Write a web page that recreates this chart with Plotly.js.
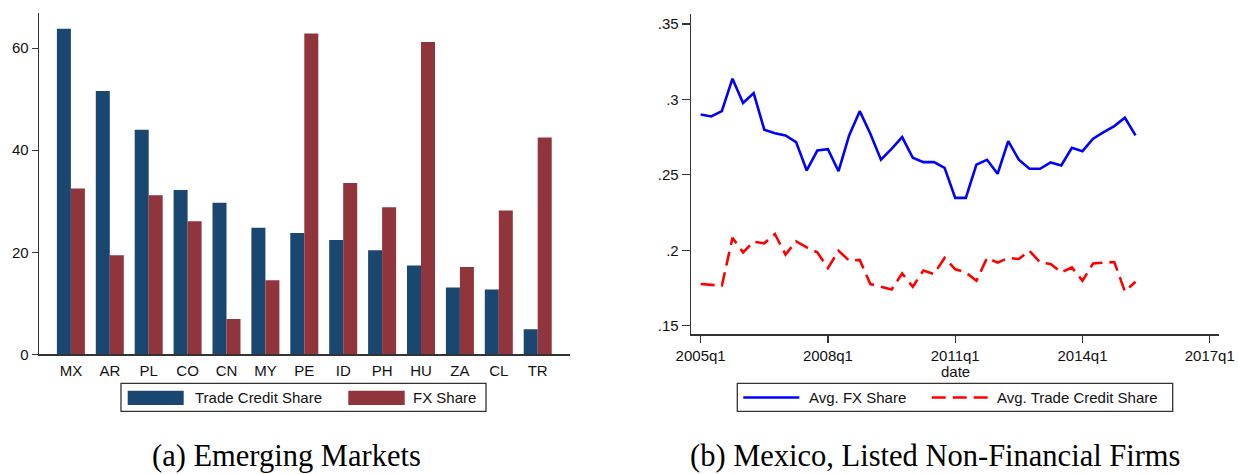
<!DOCTYPE html>
<html>
<head>
<meta charset="utf-8">
<script src="https://cdn.plot.ly/plotly-3.0.1.min.js"></script>
<style>
  html, body { margin: 0; padding: 0; background: #fff; }
  #chart { width: 1238px; height: 474px; }
</style>
</head>
<body>
<div id="chart"></div>
<script>
// Panel (a): shares by emerging market (percent)
const countries = ['MX', 'AR', 'PL', 'CO', 'CN', 'MY', 'PE', 'ID', 'PH', 'HU', 'ZA', 'CL', 'TR'];
const tradeCreditShare = [63.8, 51.6, 44.0, 32.2, 29.7, 24.8, 23.8, 22.4, 20.4, 17.4, 13.1, 12.7, 4.9];
const fxShare = [32.5, 19.4, 31.2, 26.1, 6.9, 14.5, 62.9, 33.6, 28.8, 61.2, 17.1, 28.2, 42.5];
const barSeriesNames = ['Trade Credit Share', 'FX Share'];
const leftYTicks = [0, 20, 40, 60];

// Panel (b): Mexico, listed non-financial firms, quarterly averages
const quarters = [
  '2005q1', '2005q2', '2005q3', '2005q4', '2006q1', '2006q2', '2006q3', '2006q4',
  '2007q1', '2007q2', '2007q3', '2007q4', '2008q1', '2008q2', '2008q3', '2008q4',
  '2009q1', '2009q2', '2009q3', '2009q4', '2010q1', '2010q2', '2010q3', '2010q4',
  '2011q1', '2011q2', '2011q3', '2011q4', '2012q1', '2012q2', '2012q3', '2012q4',
  '2013q1', '2013q2', '2013q3', '2013q4', '2014q1', '2014q2', '2014q3', '2014q4',
  '2015q1', '2015q2'
];
const avgFxShare = [
  0.2900, 0.2887, 0.2922, 0.3137, 0.2976, 0.3042, 0.2799, 0.2776,
  0.2761, 0.2717, 0.2529, 0.2661, 0.2670, 0.2524, 0.2761, 0.2922,
  0.2772, 0.2600, 0.2672, 0.2750, 0.2613, 0.2584, 0.2584, 0.2546,
  0.2347, 0.2347, 0.2568, 0.2600, 0.2507, 0.2723, 0.2600, 0.2541,
  0.2540, 0.2582, 0.2562, 0.2679, 0.2657, 0.2739, 0.2783, 0.2823,
  0.2878, 0.2761
];
const avgTradeCreditShare = [
  0.1776, 0.1772, 0.1765, 0.2082, 0.1986, 0.2057, 0.2046, 0.2108,
  0.1971, 0.2059, 0.2019, 0.1986, 0.1882, 0.1997, 0.1931, 0.1936,
  0.1776, 0.1758, 0.1740, 0.1847, 0.1758, 0.1865, 0.1843, 0.1949,
  0.1874, 0.1853, 0.1798, 0.1949, 0.1918, 0.1949, 0.1942, 0.1997,
  0.1920, 0.1909, 0.1853, 0.1886, 0.1798, 0.1913, 0.1918, 0.1922,
  0.1727, 0.1791
];
const lineSeriesNames = ['Avg. FX Share', 'Avg. Trade Credit Share'];
const dateTickLabels = ['2005q1', '2008q1', '2011q1', '2014q1', '2017q1'];
const rightYTicks = [0.15, 0.2, 0.25, 0.3, 0.35];
const rightYTickLabels = ['.15', '.2', '.25', '.3', '.35'];

const captions = ['(a) Emerging Markets', '(b) Mexico, Listed Non-Financial Firms'];

// Stata-style quarterly index: quarters elapsed since 2005q1
function quarterIndex(label) {
  const year = parseInt(label.slice(0, 4), 10);
  const q = parseInt(label.slice(5), 10);
  return (year - 2005) * 4 + (q - 1);
}

const W = 1238, H = 474;
const px = v => v / W;          // horizontal pixel -> paper
const py = v => 1 - v / H;      // vertical pixel (from top) -> paper

const NAVY = '#1a476f';
const MAROON = '#90353b';
const AXIS = '#333333';
const TEXT = '#111111';
const SANS = 'Liberation Sans, Arial, sans-serif';
const SERIF = 'Liberation Serif, Times New Roman, serif';

const qx = quarters.map(quarterIndex);

const traces = [
  {
    type: 'bar', x: countries, y: tradeCreditShare, name: barSeriesNames[0],
    marker: { color: NAVY }, xaxis: 'x', yaxis: 'y', hoverinfo: 'x+y+name'
  },
  {
    type: 'bar', x: countries, y: fxShare, name: barSeriesNames[1],
    marker: { color: MAROON }, xaxis: 'x', yaxis: 'y', hoverinfo: 'x+y+name'
  },
  {
    type: 'scatter', mode: 'lines', x: qx, y: avgFxShare, name: lineSeriesNames[0],
    text: quarters, line: { color: '#0000ff', width: 2.6 }, xaxis: 'x2', yaxis: 'y2'
  },
  {
    type: 'scatter', mode: 'lines', x: qx, y: avgTradeCreditShare, name: lineSeriesNames[1],
    text: quarters, line: { color: '#ff0000', width: 2.6, dash: '14px,7px' }, xaxis: 'x2', yaxis: 'y2'
  }
];

const shapes = [];
const annotations = [];

// Hand-built legend boxes in the Stata style (wide swatches, framed)
function legendBox(x0, x1) {
  shapes.push({ type: 'rect', xref: 'paper', yref: 'paper',
    x0: px(x0), x1: px(x1), y0: py(411.3), y1: py(383.3),
    line: { color: AXIS, width: 1.3 }, fillcolor: 'rgba(0,0,0,0)' });
}
function legendLabel(x, text) {
  annotations.push({ xref: 'paper', yref: 'paper', x: px(x), y: py(397.5),
    xanchor: 'left', yanchor: 'middle', showarrow: false, text: text,
    font: { family: SANS, size: 15, color: TEXT } });
}

legendBox(121, 486);
shapes.push({ type: 'rect', xref: 'paper', yref: 'paper', x0: px(127.7), x1: px(183.7),
  y0: py(405), y1: py(390.7), line: { width: 0 }, fillcolor: NAVY });
legendLabel(193, barSeriesNames[0]);
shapes.push({ type: 'rect', xref: 'paper', yref: 'paper', x0: px(348.3), x1: px(404.7),
  y0: py(405), y1: py(390.7), line: { width: 0 }, fillcolor: MAROON });
legendLabel(411, barSeriesNames[1]);

legendBox(737.3, 1172.7);
shapes.push({ type: 'line', xref: 'paper', yref: 'paper', x0: px(743.3), x1: px(799.3),
  y0: py(397.5), y1: py(397.5), line: { color: '#0000ff', width: 2.6 } });
legendLabel(806.5, lineSeriesNames[0]);
shapes.push({ type: 'line', xref: 'paper', yref: 'paper', x0: px(931.7), x1: px(988.3),
  y0: py(397.5), y1: py(397.5), line: { color: '#ff0000', width: 2.6, dash: '14px,7px' } });
legendLabel(995, lineSeriesNames[1]);

// Axis title under the date axis
annotations.push({ xref: 'x2', yref: 'paper', x: quarterIndex('2011q1'), y: py(371),
  xanchor: 'center', yanchor: 'middle', showarrow: false, text: 'date', borderpad: 0,
  font: { family: SANS, size: 15, color: TEXT } });

// Panel captions
annotations.push({ xref: 'paper', yref: 'paper', x: px(286), y: py(456),
  xanchor: 'center', yanchor: 'middle', showarrow: false, text: captions[0], borderpad: 0,
  font: { family: SERIF, size: 30.5, color: '#000' } });
annotations.push({ xref: 'paper', yref: 'paper', x: px(935), y: py(456),
  xanchor: 'center', yanchor: 'middle', showarrow: false, text: captions[1], borderpad: 0,
  font: { family: SERIF, size: 30.5, color: '#000' } });

const axisCommon = {
  showgrid: false, zeroline: false, showline: true, linecolor: AXIS, linewidth: 1.3,
  tickfont: { family: SANS, size: 15, color: TEXT }, fixedrange: true
};

const layout = {
  width: W, height: H,
  margin: { l: 0, r: 0, t: 0, b: 0 },
  paper_bgcolor: '#fff', plot_bgcolor: '#fff',
  showlegend: false,
  barmode: 'group', bargap: 0.28, bargroupgap: 0,
  xaxis: Object.assign({}, axisCommon, {
    domain: [px(39), px(570)], anchor: 'y', type: 'category',
    range: [-0.82, 12.83], ticks: '', ticklabelstandoff: 2
  }),
  yaxis: Object.assign({}, axisCommon, {
    domain: [py(354.3), py(13)], anchor: 'x', range: [0, 66.9],
    tickvals: leftYTicks, ticks: 'outside', ticklen: 6, tickcolor: AXIS, tickwidth: 1.3
  }),
  xaxis2: Object.assign({}, axisCommon, {
    domain: [px(691), px(1219.3)], anchor: 'y2', range: [-0.91, 48.9],
    tickvals: dateTickLabels.map(quarterIndex), ticktext: dateTickLabels,
    ticks: 'outside', ticklen: 7, tickcolor: AXIS, tickwidth: 1.3
  }),
  yaxis2: Object.assign({}, axisCommon, {
    domain: [py(334.3), py(14)], anchor: 'x2', range: [0.1443, 0.3566],
    tickvals: rightYTicks, ticktext: rightYTickLabels,
    ticks: 'outside', ticklen: 8, tickcolor: AXIS, tickwidth: 1.3
  }),
  shapes: shapes,
  annotations: annotations
};

Plotly.newPlot('chart', traces, layout, { displayModeBar: false, staticPlot: true });
</script>
</body>
</html>
